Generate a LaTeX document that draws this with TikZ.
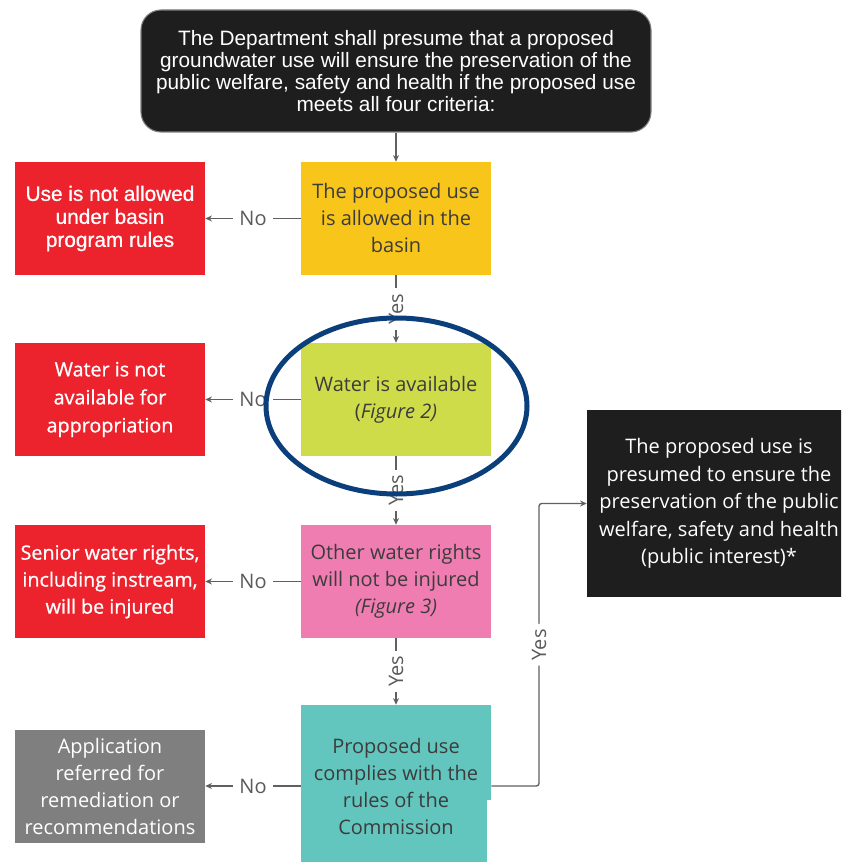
\documentclass[tikz,border=0pt]{standalone}
\usepackage{fontspec}
\setmainfont{Open Sans}
\newfontfamily\arialf{Liberation Sans}
\newfontfamily\redf[FakeBold=0.9]{Open Sans}
\newfontfamily\redarial[FakeBold=0.8]{Liberation Sans}
\usetikzlibrary{arrows.meta}
\definecolor{topblack}{HTML}{1E1E1E}
\definecolor{boxred}{HTML}{EC222D}
\definecolor{boxyel}{HTML}{F8C51B}
\definecolor{boxgrn}{HTML}{CFDC4A}
\definecolor{boxpnk}{HTML}{F07DB1}
\definecolor{boxteal}{HTML}{62C6BF}
\definecolor{boxgry}{HTML}{7F7F7F}
\definecolor{boxtext}{HTML}{3C3C3C}
\definecolor{linegray}{HTML}{606060}
\definecolor{labelgray}{HTML}{5A5A5A}
\definecolor{ellblue}{HTML}{0B3F7C}
\begin{document}
\begin{tikzpicture}[x=0.75pt,y=-0.75pt,
  box/.style={rectangle, minimum width=142.5pt, minimum height=84.75pt, inner sep=2pt,
    align=center, text=boxtext, font=\fontsize{15}{20.25}\selectfont},
  redbox/.style={box, fill=boxred, text=white},
  conn/.style={draw=linegray, line width=1pt, -{Stealth[length=5pt,width=4.5pt]}},
  lbl/.style={fill=white, inner xsep=5pt, inner ysep=1pt, text=labelgray,
    font=\fontsize{15}{16}\selectfont},
  vlbl/.style={lbl, rotate=90, inner xsep=4pt, inner ysep=0pt}]
\clip (0,0) rectangle (841,862);
\fill[white] (0,0) rectangle (841,862);

\node[rectangle, rounded corners=15pt, fill=topblack, draw=gray, line width=0.8pt,
  minimum width=382.5pt, minimum height=91.5pt, align=center, text=white,
  font=\arialf\fontsize{15.6}{16.5}\selectfont] (top) at (396,71)
  {The Department shall presume that a proposed\\groundwater use will ensure the preservation of the\\public welfare, safety and health if the proposed use\\meets all four criteria:};

\node[box, fill=boxyel] (yel) at (396,218.5) {The proposed use\\is allowed in the\\basin};
\node[redbox, font=\redarial\fontsize{15.6}{17.25}\selectfont] (red1) at (110,218.5) {Use is not allowed\\under basin\\program rules};

\node[box, fill=boxgrn] (grn) at (396,399.5) {Water is available\\(\textit{Figure 2)}};
\node[redbox, font=\redf\fontsize{14.8}{21}\selectfont] (red2) at (110,399.5) {Water is not\\available for\\appropriation};

\node[box, fill=boxpnk] (pnk) at (396,581.5) {Other water rights\\will not be injured\\\textit{(Figure 3)}};
\node[redbox, font=\redf\fontsize{14.8}{20.25}\selectfont] (red3) at (110,581.5) {Senior water rights,\\including instream,\\will be injured};

\node[box, fill=boxteal, minimum height=121.5pt] (teal) at (396,786) {Proposed use\\complies with the\\rules of the\\Commission};
\fill[white] (486.5,800) rectangle (493,870);
\node[box, fill=boxgry, text=white] (gry) at (110,786) {Application\\referred for\\remediation or\\recommendations};

\node[box, fill=topblack, text=white, minimum width=198pt, minimum height=140.25pt,
  font=\fontsize{15}{20.6}\selectfont] (blk) at (719,503.5)
  {The proposed use is\\presumed to ensure the\\preservation of the public\\welfare, safety and health\\(public interest)*};

\draw[conn] (top.south) -- (yel.north);
\draw[conn] (yel.west) -- node[lbl]{No} (red1.east);
\draw[conn] (grn.west) -- node[lbl]{No} (red2.east);
\draw[conn] (pnk.west) -- node[lbl]{No} (red3.east);
\draw[conn] (teal.west) -- node[lbl]{No} (gry.east);
\draw[conn] (yel.south) -- node[vlbl]{Yes} (grn.north);
\draw[conn] (grn.south) -- node[vlbl]{Yes} (pnk.north);
\draw[conn] (pnk.south) -- node[vlbl]{Yes} (teal.north);
\coordinate (bend) at (539,786);
\draw[conn, rounded corners=2pt] (teal.east) -- (bend) -- node[vlbl]{Yes} (bend |- blk.west) -- (blk.west);

\draw[ellblue, line width=3.75pt] (396.5,406) ellipse [x radius=130.5, y radius=88];
\end{tikzpicture}
\end{document}
